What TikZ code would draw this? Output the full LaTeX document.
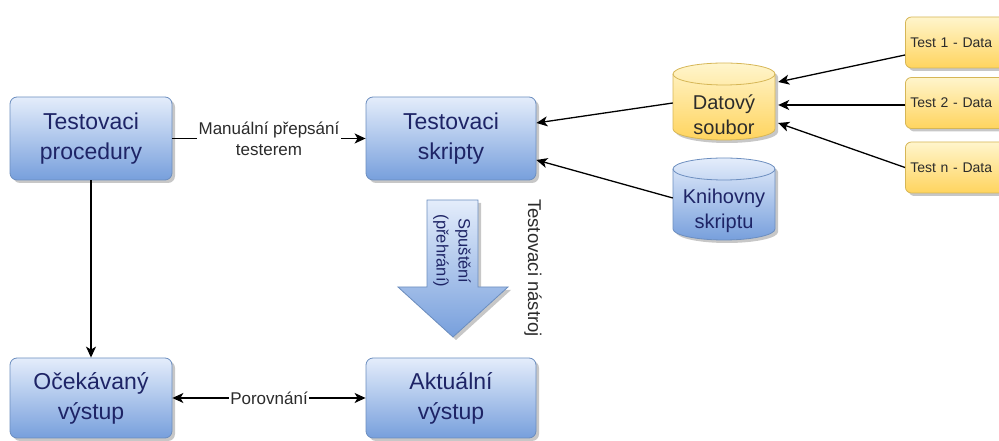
\documentclass[tikz,border=0pt]{standalone}
\usepackage{fontspec}
\setmainfont{Liberation Sans}
\usetikzlibrary{arrows.meta,shadows,calc}
\definecolor{bluetop}{HTML}{E4EDFB}
\definecolor{bluebot}{HTML}{779FDC}
\definecolor{bluebd}{HTML}{6C8EBF}
\definecolor{yeltop}{HTML}{FFF5CC}
\definecolor{yelbot}{HTML}{FFD45E}
\definecolor{yelbd}{HTML}{D6B656}
\definecolor{navy}{HTML}{1E2466}
\definecolor{darktxt}{HTML}{2B2B2B}
\begin{document}
\begin{tikzpicture}[x=1pt,y=1pt,
  shade/.style={drop shadow={shadow xshift=3pt,shadow yshift=-3pt,fill=black,opacity=0.22}},
  bluebox/.style={draw=bluebd,line width=0.8pt,rounded corners=7pt,top color=bluetop,bottom color=bluebot,
    align=center,text=navy,font=\fontsize{23}{30}\selectfont,inner sep=0pt,shade},
  testbox/.style={draw=yelbd,line width=0.8pt,rounded corners=6pt,top color=yeltop,bottom color=yelbot,
    minimum height=51pt,text width=110pt,inner xsep=5pt,align=left,text=darktxt,
    font=\fontsize{14}{16}\selectfont,anchor=west,shade},
  cyltext/.style={inner sep=0pt,minimum width=102pt,align=center,font=\fontsize{20}{25}\selectfont},
  conn/.style={line width=1.3pt,-{Stealth[length=11pt,width=10pt,inset=3pt]}},
  lbl/.style={fill=white,inner sep=1.5pt,align=center,font=\fontsize{17}{21}\selectfont,text=darktxt}
]
\useasboundingbox (0,0) rectangle (999,441);
\clip (0,0) rectangle (999,441);

% main boxes
\node[bluebox,minimum width=162pt,minimum height=83pt] (proc) at (91,302.5) {Testovaci\\procedury};
\node[bluebox,minimum width=170pt,minimum height=83pt] (skr) at (451,302.5) {Testovaci\\skripty};
\node[bluebox,minimum width=162pt,minimum height=80pt] (ocek) at (91,43) {Očekávaný\\výstup};
\node[bluebox,minimum width=170pt,minimum height=80pt] (akt) at (451,43) {Aktuální\\výstup};

% big arrow (Spuštění)
\path[draw=bluebd,line width=0.8pt,top color=bluetop,bottom color=bluebot,shade]
  (427,241) -- (478,241) -- (478,154) -- (508,154) -- (453,104) -- (398,154) -- (427,154) -- cycle;
\node[rotate=-90,align=center,text=navy,font=\fontsize{16.5}{22}\selectfont] (spu) at (452,190) {Spuštění\\(přehrání)};
\node[rotate=-90,font=\fontsize{18.5}{22}\selectfont,text=darktxt] (tn) at (533,173) {Testovaci nástroj};

% cylinders
\fill[black,opacity=0.22] (676,364) -- (676,309) arc[start angle=180,end angle=360,x radius=51,y radius=11] -- (778,364) arc[start angle=0,end angle=180,x radius=51,y radius=11] -- cycle;
\path[draw=yelbd,line width=0.8pt,top color=yeltop,bottom color=yelbot]
  (673,367) -- (673,312) arc[start angle=180,end angle=360,x radius=51,y radius=11] -- (775,367) arc[start angle=0,end angle=180,x radius=51,y radius=11] -- cycle;
\draw[yelbd,line width=0.8pt] (673,367) arc[start angle=180,end angle=360,x radius=51,y radius=11];
\fill[black,opacity=0.22] (676,269) -- (676,209) arc[start angle=180,end angle=360,x radius=51,y radius=11] -- (778,269) arc[start angle=0,end angle=180,x radius=51,y radius=11] -- cycle;
\path[draw=bluebd,line width=0.8pt,top color=bluetop,bottom color=bluebot]
  (673,272) -- (673,212) arc[start angle=180,end angle=360,x radius=51,y radius=11] -- (775,272) arc[start angle=0,end angle=180,x radius=51,y radius=11] -- cycle;
\draw[bluebd,line width=0.8pt] (673,272) arc[start angle=180,end angle=360,x radius=51,y radius=11];
\node[cyltext,text=darktxt] (ds) at (724,326) {Datový\\soubor};
\node[cyltext,text=navy] (kn) at (724,230) {Knihovny\\skriptu};

% test data boxes
\node[testbox] (t1) at (905,398.5) {Test 1 - Data};
\node[testbox] (t2) at (905,338) {Test 2 - Data};
\node[testbox] (tn2) at (905,273.5) {Test n - Data};

% connectors
\draw[conn] (proc.east) -- node[lbl] {Manuální přepsání\\testerem} (skr.west);
\draw[conn] (proc.south) -- (ocek.north);
\draw[line width=1.3pt,{Stealth[length=11pt,width=10pt,inset=3pt]}-{Stealth[length=11pt,width=10pt,inset=3pt]}] (ocek.east) -- node[lbl] {Porovnání} (akt.west);
\draw[conn] ($(ds.west)+(0,12)$) -- ($(skr.east)+(0,15.5)$);
\draw[conn] ($(kn.west)+(0,13)$) -- ($(skr.east)+(0,-21.5)$);
\draw[conn] ($(t1.west)+(0,-12.5)$) -- ($(ds.east)+(3,33)$);
\draw[conn] ($(t2.west)+(0,-2)$) -- ($(ds.east)+(3,10)$);
\draw[conn] (tn2.west) -- ($(ds.east)+(3,-8)$);
\end{tikzpicture}
\end{document}
